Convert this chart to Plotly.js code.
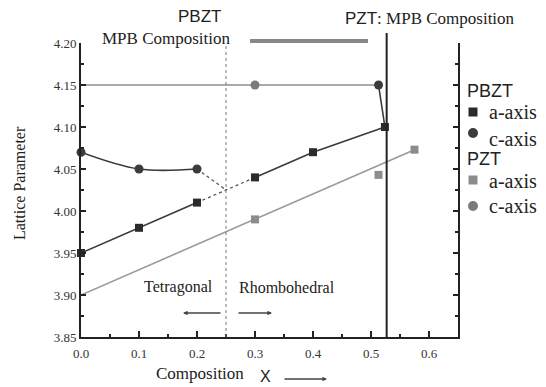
<!DOCTYPE html>
<html>
<head>
<meta charset="utf-8">
<script src="https://cdn.plot.ly/plotly-3.0.1.min.js"></script>
<style>
  html, body { margin: 0; padding: 0; background: #fff; }
  #chart { width: 546px; height: 387px; }
</style>
</head>
<body>
<div id="chart"></div>
<script>
// Lattice parameters of PBZT and PZT versus composition x
const xTickVals = [0, 0.1, 0.2, 0.3, 0.4, 0.5, 0.6];
const xTickText = ["0.0", "0.1", "0.2", "0.3", "0.4", "0.5", "0.6"];
const yTickVals = [3.85, 3.90, 3.95, 4.00, 4.05, 4.10, 4.15, 4.20];
const yTickText = ["3.85", "3.90", "3.95", "4.00", "4.05", "4.10", "4.15", "4.20"];

// PBZT a-axis
const pbztAx = [0, 0.1, 0.2, 0.3, 0.4, 0.524];
const pbztAy = [3.95, 3.98, 4.01, 4.04, 4.07, 4.10];
// PBZT c-axis (tetragonal side) and the point at the MPB
const pbztCx = [0, 0.1, 0.2];
const pbztCy = [4.07, 4.05, 4.05];
const pbztCMpbX = [0.513, 0.524];
const pbztCMpbY = [4.15, 4.10];
// where the PBZT a and c branches meet (tetragonal / rhombohedral boundary)
const pbztMeetX = 0.25;
const pbztMeetY = 4.025;

// PZT a-axis and its straight-line fit
const pztAx = [0.3, 0.513, 0.575];
const pztAy = [3.99, 4.043, 4.073];
const pztFitX = [0, 0.575];
const pztFitY = [3.90, 4.073];
// PZT c-axis
const pztCx = [0.3];
const pztCy = [4.15];
const pztCLineX = [0, 0.3, 0.513];
const pztCLineY = [4.15, 4.15, 4.15];

// composition boundaries
const pbztMpb = 0.25;
const pztMpb = 0.527;

const SERIF = 'Liberation Serif, serif';
const SANS = 'Liberation Sans, sans-serif';
const DARK = '#2b2b2b';
const DARK_C = '#3c3c3c';
const GREY = '#8c8c8c';
const GREY_C = '#7a7a7a';
const INK = '#222';

const traces = [
  // PZT fit line
  { x: pztFitX, y: pztFitY, mode: 'lines', line: { color: '#9a9a9a', width: 1.6 },
    hoverinfo: 'skip', cliponaxis: false },
  // PZT c-axis line at 4.15
  { x: pztCLineX, y: pztCLineY, mode: 'lines', line: { color: '#8f8f8f', width: 1.6 },
    hoverinfo: 'skip', cliponaxis: false },
  // PBZT a-axis, solid tetragonal part
  { x: pbztAx.slice(0, 3), y: pbztAy.slice(0, 3), mode: 'lines', line: { color: '#3a3a3a', width: 1.6 },
    hoverinfo: 'skip', cliponaxis: false },
  // PBZT a-axis across the boundary (dotted)
  { x: pbztAx.slice(2, 4), y: pbztAy.slice(2, 4), mode: 'lines', line: { color: '#555', width: 1.3, dash: 'dot' },
    hoverinfo: 'skip' },
  // PBZT a-axis, rhombohedral part
  { x: pbztAx.slice(3), y: pbztAy.slice(3), mode: 'lines', line: { color: '#3a3a3a', width: 1.6 },
    hoverinfo: 'skip', cliponaxis: false },
  // PBZT c-axis curve
  { x: pbztCx, y: pbztCy, mode: 'lines', line: { color: '#3a3a3a', width: 1.6, shape: 'spline' },
    hoverinfo: 'skip', cliponaxis: false },
  // PBZT c-axis running into the boundary (dotted)
  { x: [pbztCx[2], pbztMeetX], y: [pbztCy[2], pbztMeetY], mode: 'lines',
    line: { color: '#555', width: 1.3, dash: 'dot' }, hoverinfo: 'skip' },
  // PBZT c-axis at the MPB, dropping onto the a-axis
  { x: pbztCMpbX, y: pbztCMpbY, mode: 'lines', line: { color: '#3a3a3a', width: 1.6 },
    hoverinfo: 'skip' },

  // markers
  { x: pbztAx, y: pbztAy, mode: 'markers', name: 'PBZT a-axis',
    marker: { symbol: 'square', size: 8, color: DARK }, cliponaxis: false },
  { x: pbztCx.concat([pbztCMpbX[0]]), y: pbztCy.concat([pbztCMpbY[0]]), mode: 'markers', name: 'PBZT c-axis',
    marker: { symbol: 'circle', size: 9, color: DARK_C }, cliponaxis: false },
  { x: pztAx, y: pztAy, mode: 'markers', name: 'PZT a-axis',
    marker: { symbol: 'square', size: 8, color: GREY }, cliponaxis: false },
  { x: pztCx, y: pztCy, mode: 'markers', name: 'PZT c-axis',
    marker: { symbol: 'circle', size: 9, color: GREY_C }, cliponaxis: false }
];

// convert page pixels to paper fractions for the decorations
const L = 81, R = 458, T = 43, B = 337;
const W = R - L, H = B - T;
const px = v => (v - L) / W;
const py = v => (B - v) / H;

function label(text, x, y, font, extra) {
  return Object.assign({ text: text, x: px(x), y: py(y), xref: 'paper', yref: 'paper',
    xanchor: 'center', yanchor: 'middle', showarrow: false, font: font }, extra || {});
}
function arrow(x0, x1, y) {
  return { text: '', x: px(x1), y: py(y), ax: px(x0), ay: py(y), xref: 'paper', yref: 'paper',
    axref: 'paper', ayref: 'paper', showarrow: true, arrowhead: 2, arrowsize: 0.7,
    arrowwidth: 1.3, arrowcolor: '#444' };
}

const titleFont = { family: SANS, size: 18, color: INK };
const itemFont = { family: SERIF, size: 20, color: INK };

const annotations = [
  label('PBZT', 199, 17, { family: SANS, size: 17, color: INK }),
  label('MPB Composition', 166, 38, { family: SERIF, size: 17, color: INK }),
  label('<span style="font-family:Liberation Sans">PZT</span>: MPB Composition', 430, 18,
        { family: SERIF, size: 17, color: INK }),
  label('Tetragonal', 178, 287, { family: SERIF, size: 16, color: INK }),
  label('Rhombohedral', 287, 287, { family: SERIF, size: 16, color: INK }),
  label('Composition', 200, 373, { family: SERIF, size: 17, color: INK }),
  label('X', 265, 376, { family: SANS, size: 16, color: INK }),
  label('Lattice Parameter', 19, 183, { family: SERIF, size: 16, color: INK }, { textangle: -90 }),
  // phase arrows
  arrow(222, 183, 313),
  arrow(237, 272, 313),
  arrow(283, 327, 379),
  // key
  label('PBZT', 465, 91, titleFont, { xanchor: 'left' }),
  label('a-axis', 487, 112, itemFont, { xanchor: 'left' }),
  label('c-axis', 487, 139, itemFont, { xanchor: 'left' }),
  label('PZT', 465, 159, titleFont, { xanchor: 'left' }),
  label('a-axis', 487, 181, itemFont, { xanchor: 'left' }),
  label('c-axis', 487, 206, itemFont, { xanchor: 'left' })
];

function keySquare(cx, cy, s, color) {
  return { type: 'rect', xref: 'paper', yref: 'paper', x0: px(cx - s / 2), x1: px(cx + s / 2),
    y0: py(cy + s / 2), y1: py(cy - s / 2), fillcolor: color, line: { width: 0 } };
}
function keyCircle(cx, cy, s, color) {
  return { type: 'circle', xref: 'paper', yref: 'paper', x0: px(cx - s / 2), x1: px(cx + s / 2),
    y0: py(cy + s / 2), y1: py(cy - s / 2), fillcolor: color, line: { width: 0 } };
}

const shapes = [
  // PBZT boundary (dotted)
  { type: 'line', xref: 'x', yref: 'paper', x0: pbztMpb, x1: pbztMpb, y0: 0, y1: 1,
    line: { color: '#777', width: 1, dash: 'dot' } },
  // PZT boundary (solid)
  { type: 'line', xref: 'x', yref: 'paper', x0: pztMpb, x1: pztMpb, y0: 0, y1: py(33),
    line: { color: '#222', width: 2 } },
  // PBZT MPB band
  { type: 'line', xref: 'paper', yref: 'paper', x0: px(250), x1: px(368), y0: py(41), y1: py(41),
    line: { color: '#888', width: 4 } },
  // key symbols
  keySquare(473, 112, 9, DARK),
  keyCircle(473, 133, 10, DARK_C),
  keySquare(473, 180, 9, GREY),
  keyCircle(473, 206, 10, GREY_C)
];

const layout = {
  width: 546, height: 387,
  margin: { l: L, r: 546 - R, t: T, b: 387 - B, pad: 0, autoexpand: false },
  paper_bgcolor: '#fff', plot_bgcolor: '#fff',
  font: { family: SERIF, color: INK, size: 12 },
  showlegend: false,
  xaxis: {
    range: [0, 0.65], tickvals: xTickVals, ticktext: xTickText,
    ticks: 'inside', ticklen: 6, tickwidth: 1.5, tickcolor: '#222',
    showline: true, linecolor: '#222', linewidth: 2, mirror: false,
    showgrid: false, zeroline: false, ticklabelstandoff: 3,
    tickfont: { family: SERIF, size: 13, color: '#333' },
    minor: { dtick: 0.05, ticks: 'inside', ticklen: 3, tickcolor: '#222', showgrid: false }
  },
  yaxis: {
    range: [3.85, 4.20], tickvals: yTickVals, ticktext: yTickText,
    ticks: 'inside', ticklen: 5, tickwidth: 1.5, tickcolor: '#222',
    showline: true, linecolor: '#222', linewidth: 2, mirror: 'ticks',
    showgrid: false, zeroline: false, ticklabelstandoff: 0,
    tickfont: { family: SERIF, size: 13, color: '#333' },
    minor: { dtick: 0.025, ticks: 'inside', ticklen: 3, tickcolor: '#222', showgrid: false }
  },
  annotations: annotations,
  shapes: shapes
};

Plotly.newPlot('chart', traces, layout, { displayModeBar: false, staticPlot: true });
</script>
</body>
</html>
